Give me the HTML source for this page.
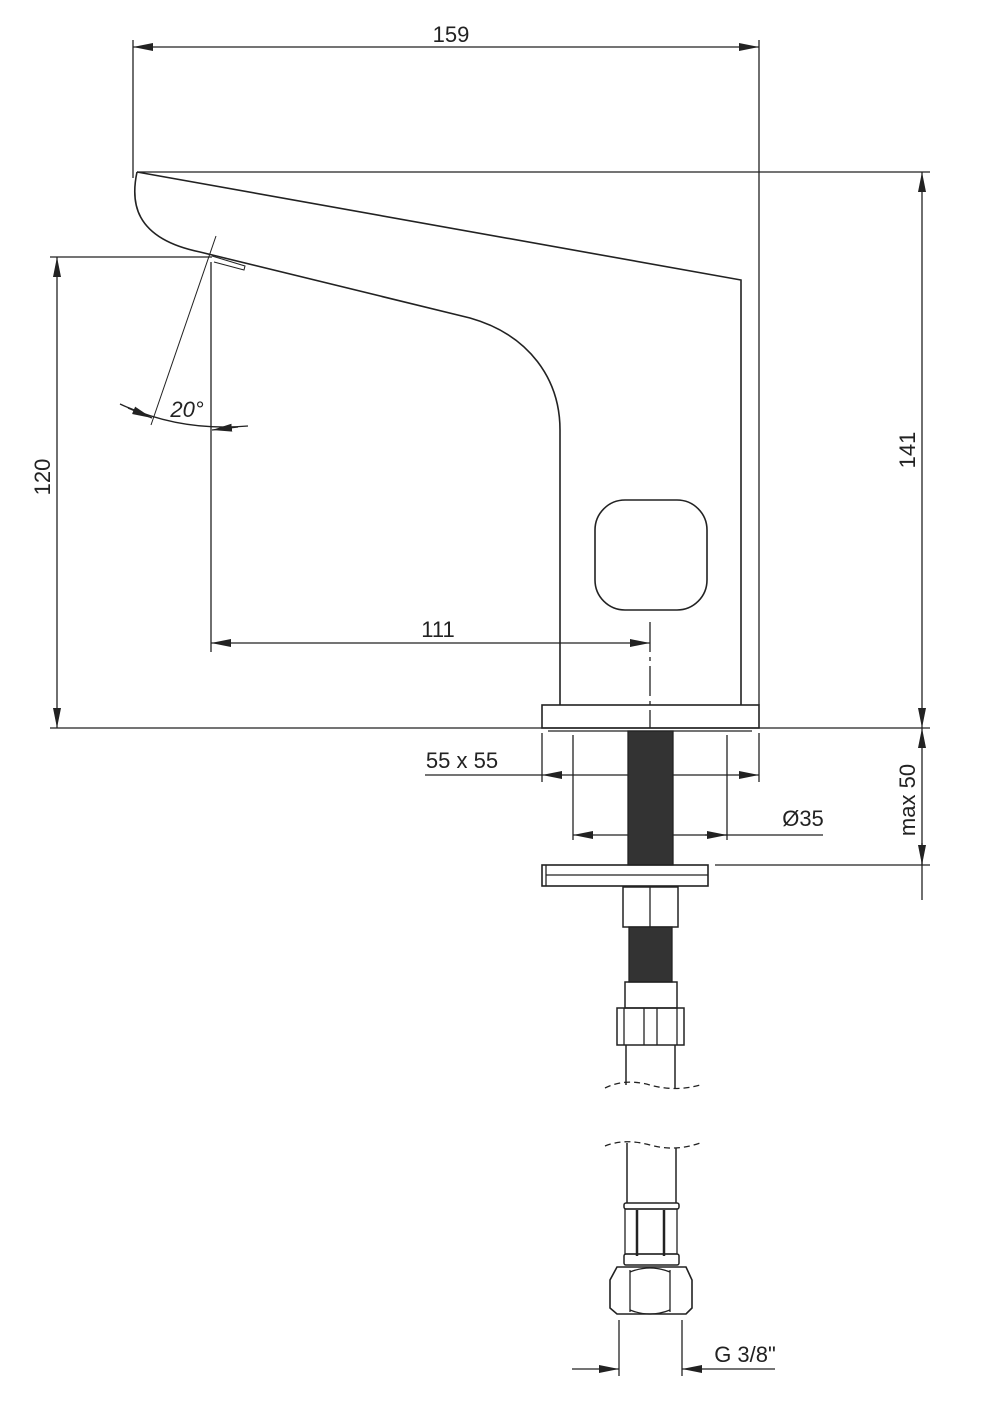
<!DOCTYPE html>
<html><head><meta charset="utf-8"><style>
html,body{margin:0;padding:0;background:#fff}
svg{display:block}
text{font-family:"Liberation Sans",sans-serif;font-size:22px;fill:#222}
</style></head><body>
<svg width="1006" height="1410" viewBox="0 0 1006 1410" xmlns="http://www.w3.org/2000/svg">
<defs>
<marker id="a" viewBox="0 0 20 8" refX="20" refY="4" markerWidth="20" markerHeight="8" markerUnits="userSpaceOnUse" orient="auto"><path d="M0,0L20,4L0,8Z" fill="#222"/></marker>
</defs>
<g stroke="#222" stroke-width="1.3" fill="none">
<!-- 159 -->
<line x1="133" y1="40" x2="133" y2="178"/>
<line x1="759" y1="40" x2="759" y2="705"/>
<line x1="155" y1="47" x2="133" y2="47" marker-end="url(#a)"/>
<line x1="737" y1="47" x2="759" y2="47" marker-end="url(#a)"/>
<line x1="155" y1="47" x2="737" y2="47"/>
<!-- top ref line -->
<line x1="137" y1="172" x2="930" y2="172"/>
<!-- spout body -->
<path d="M137,172 L741,280 L741,705" stroke-width="1.6"/>
<path d="M137,172 C131,200 132,238 200,252 L470,318 C530,335 560,380 560,430 L560,705" stroke-width="1.6"/>
<path d="M212,256 L245,266 L244,270 L214,262" stroke-width="1"/>
<!-- sensor -->
<rect x="595" y="500" width="112" height="110" rx="30" stroke-width="1.6"/>
<!-- base plate -->
<rect x="542" y="705" width="217" height="23" stroke-width="1.6"/>
<line x1="548" y1="731" x2="752" y2="731"/>
<!-- 120 -->
<line x1="50" y1="257" x2="212" y2="257"/>
<line x1="50" y1="728" x2="930" y2="728"/>
<line x1="57" y1="280" x2="57" y2="257" marker-end="url(#a)"/>
<line x1="57" y1="705" x2="57" y2="728" marker-end="url(#a)"/>
<line x1="57" y1="280" x2="57" y2="705"/>
<!-- 141 -->
<line x1="922" y1="195" x2="922" y2="172" marker-end="url(#a)"/>
<line x1="922" y1="705" x2="922" y2="728" marker-end="url(#a)"/>
<line x1="922" y1="195" x2="922" y2="705"/>
<!-- 111 -->
<line x1="211" y1="262" x2="211" y2="652"/>
<line x1="233" y1="643" x2="211" y2="643" marker-end="url(#a)"/>
<line x1="628" y1="643" x2="650" y2="643" marker-end="url(#a)"/>
<line x1="233" y1="643" x2="628" y2="643"/>
<line x1="650" y1="622" x2="650" y2="728" stroke-dasharray="30,5,4,5"/>
<!-- 20° -->
<line x1="216" y1="236" x2="151" y2="425" stroke-width="1"/>
<path d="M120,404 Q180,432 248,426"/>
<line x1="128" y1="408" x2="152" y2="418" marker-end="url(#a)"/>
<line x1="238" y1="427" x2="212" y2="430" marker-end="url(#a)"/>
<!-- rod -->
<rect x="628" y="731" width="45" height="134" fill="#333" stroke="#222"/>
<!-- 55x55 -->
<line x1="542" y1="733" x2="542" y2="782"/>
<line x1="759" y1="733" x2="759" y2="782"/>
<line x1="425" y1="775" x2="542" y2="775"/>
<line x1="563" y1="775" x2="542" y2="775" marker-end="url(#a)"/>
<line x1="738" y1="775" x2="759" y2="775" marker-end="url(#a)"/>
<line x1="563" y1="775" x2="628" y2="775"/>
<line x1="673" y1="775" x2="738" y2="775"/>
<!-- Ø35 -->
<line x1="573" y1="735" x2="573" y2="840"/>
<line x1="727" y1="735" x2="727" y2="840"/>
<line x1="595" y1="835" x2="573" y2="835" marker-end="url(#a)"/>
<line x1="705" y1="835" x2="727" y2="835" marker-end="url(#a)"/>
<line x1="595" y1="835" x2="628" y2="835"/>
<line x1="673" y1="835" x2="823" y2="835"/>
<!-- max 50 -->
<line x1="715" y1="865" x2="930" y2="865"/>
<line x1="922" y1="750" x2="922" y2="728" marker-end="url(#a)"/>
<line x1="922" y1="843" x2="922" y2="865" marker-end="url(#a)"/>
<line x1="922" y1="750" x2="922" y2="900"/>
<!-- lower plate -->
<rect x="542" y="865" width="166" height="21" stroke-width="1.6"/>
<line x1="546" y1="865" x2="546" y2="886"/>
<line x1="546" y1="875" x2="708" y2="875"/>
<!-- nut -->
<rect x="623" y="887" width="55" height="40" stroke-width="1.5"/>
<line x1="650" y1="887" x2="650" y2="927"/>
<rect x="629" y="927" width="43" height="55" fill="#333" stroke="#222"/>
<rect x="625" y="982" width="52" height="26" stroke-width="1.5"/>
<rect x="617" y="1008" width="67" height="37" stroke-width="1.5"/>
<line x1="624" y1="1008" x2="624" y2="1045"/>
<line x1="644" y1="1008" x2="644" y2="1045"/>
<line x1="657" y1="1008" x2="657" y2="1045"/>
<line x1="677" y1="1008" x2="677" y2="1045"/>
<line x1="626" y1="1045" x2="626" y2="1085" stroke-width="1.5"/>
<line x1="675" y1="1045" x2="675" y2="1088" stroke-width="1.5"/>
<path d="M605,1088 Q625,1078 650,1085 Q675,1092 700,1085" stroke-dasharray="6,4"/>
<!-- lower section -->
<path d="M605,1146 Q625,1138 650,1145 Q675,1152 700,1143" stroke-dasharray="6,4"/>
<line x1="627" y1="1143" x2="627" y2="1203" stroke-width="1.5"/>
<line x1="676" y1="1148" x2="676" y2="1203" stroke-width="1.5"/>
<rect x="624" y="1203" width="55" height="6" rx="2" stroke-width="1.5"/>
<rect x="625" y="1209" width="52" height="45" stroke-width="1.3"/>
<line x1="637" y1="1210" x2="637" y2="1256" stroke-width="2.5"/>
<line x1="664" y1="1210" x2="664" y2="1256" stroke-width="2.5"/>
<rect x="624" y="1254" width="55" height="11" rx="2" stroke-width="1.5"/>
<path d="M617,1267 L686,1267 L692,1280 L692,1308 L686,1314 L617,1314 L610,1308 L610,1280 Z" stroke-width="1.6"/>
<line x1="630" y1="1270" x2="630" y2="1312"/>
<line x1="670" y1="1270" x2="670" y2="1312"/>
<path d="M630,1272 Q650,1264 670,1272 M630,1310 Q650,1318 670,1310"/>
<!-- G 3/8 -->
<line x1="619" y1="1320" x2="619" y2="1376"/>
<line x1="682" y1="1320" x2="682" y2="1376"/>
<line x1="572" y1="1369" x2="619" y2="1369" marker-end="url(#a)"/>
<line x1="775" y1="1369" x2="682" y2="1369" marker-end="url(#a)"/>
</g>
<text x="451" y="42" text-anchor="middle">159</text>
<text x="438" y="637" text-anchor="middle">111</text>
<text x="187" y="417" text-anchor="middle" font-style="italic">20°</text>
<text x="462" y="768" text-anchor="middle">55 x 55</text>
<text x="803" y="826" text-anchor="middle">Ø35</text>
<text x="745" y="1362" text-anchor="middle">G 3/8"</text>
<text transform="translate(50,477) rotate(-90)" text-anchor="middle">120</text>
<text transform="translate(915,450) rotate(-90)" text-anchor="middle">141</text>
<text transform="translate(915,800) rotate(-90)" text-anchor="middle">max 50</text>
</svg>
</body></html>
